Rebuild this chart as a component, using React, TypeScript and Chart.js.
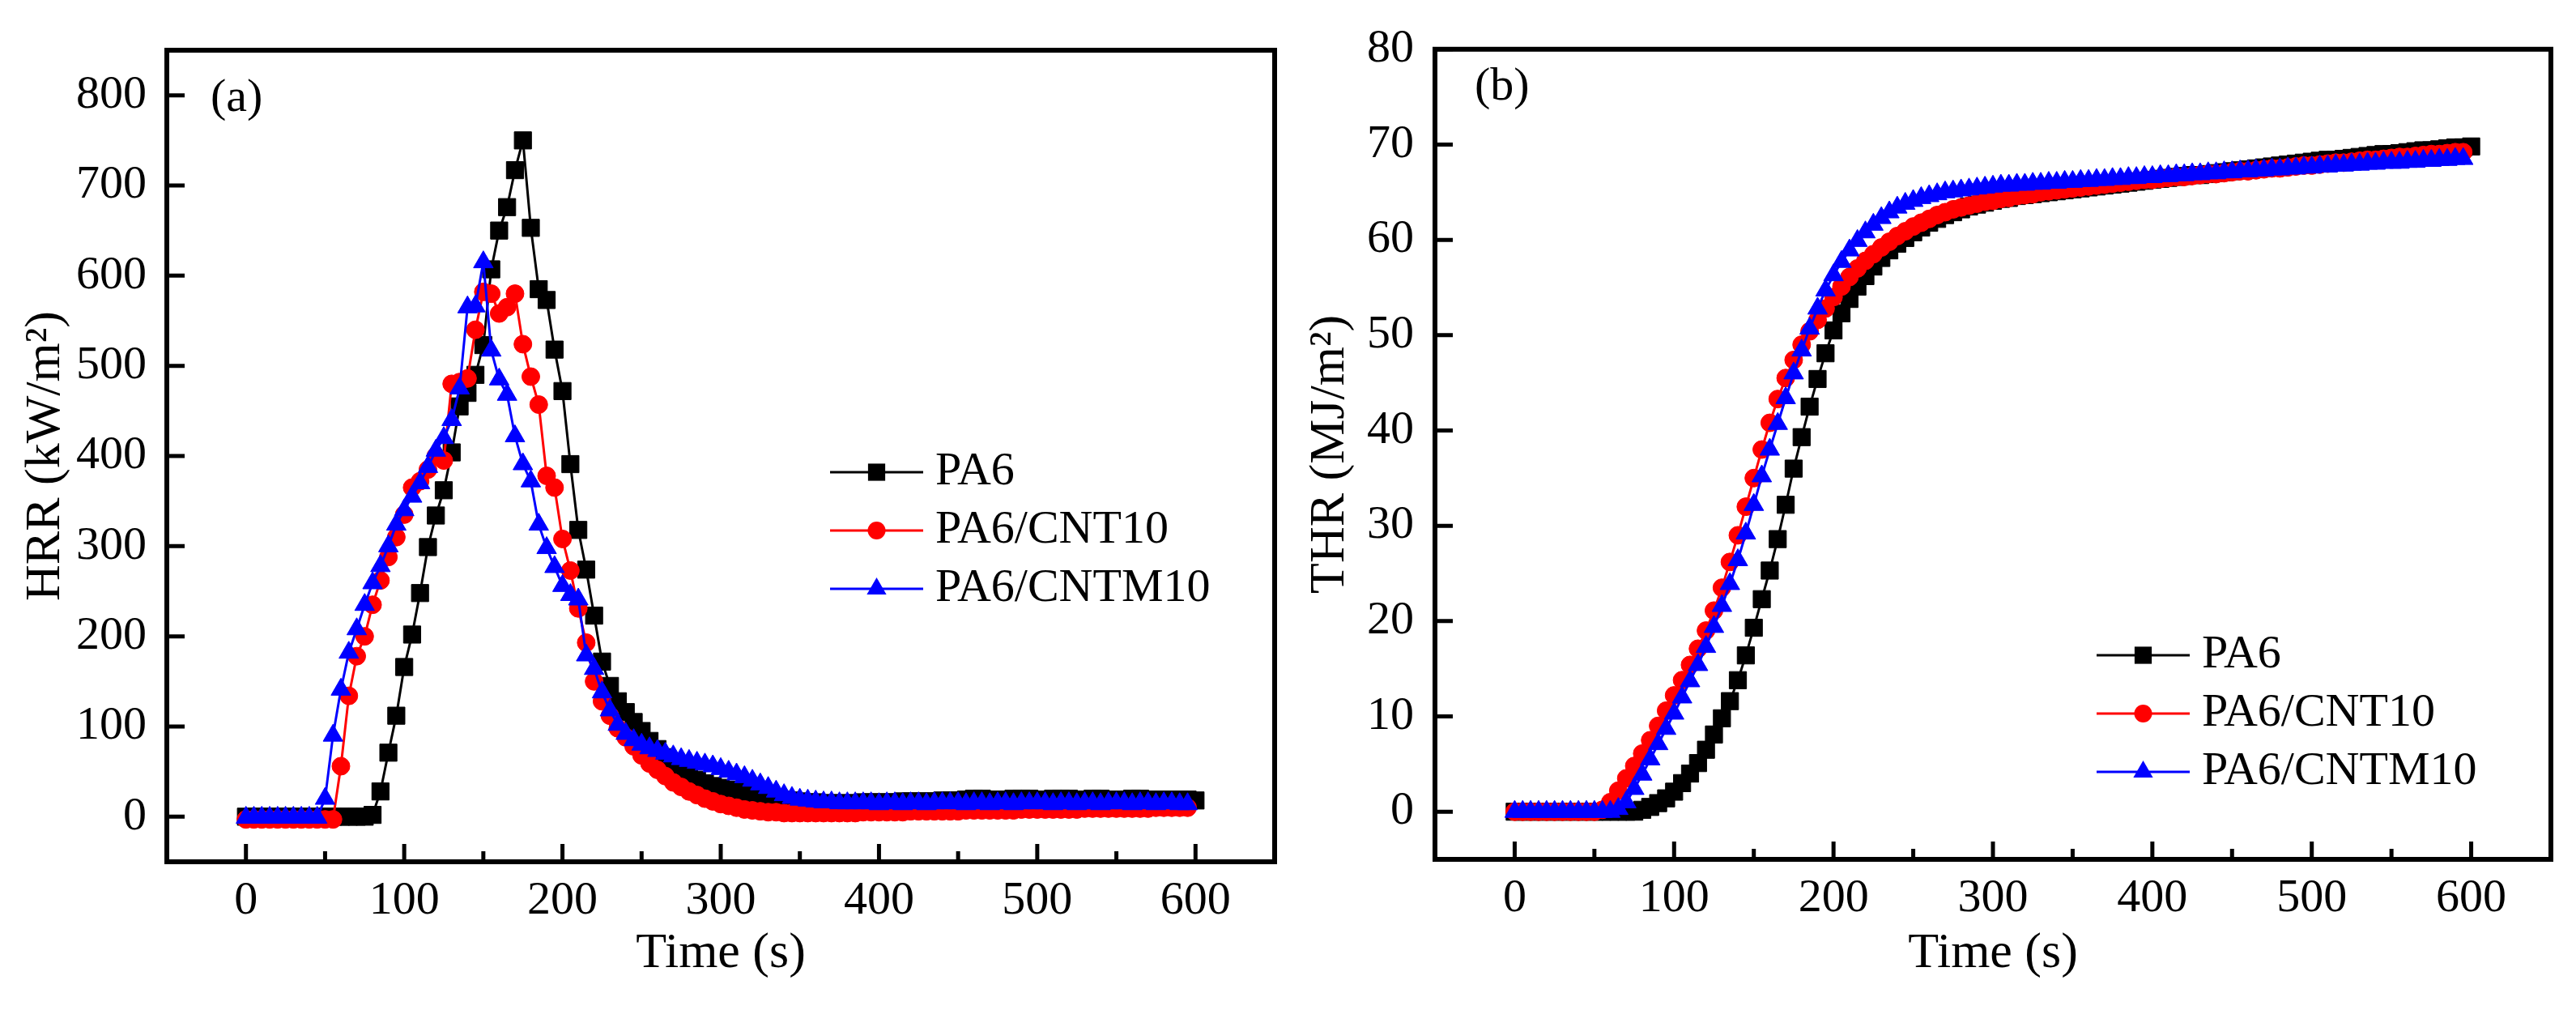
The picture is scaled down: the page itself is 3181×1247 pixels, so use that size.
import React, { useEffect, useRef } from "react";
import { Chart, registerables } from "chart.js";

Chart.register(...registerables);

// ---------------- data ----------------
const TIME_S = [
  0, 5, 10, 15, 20, 25, 30, 35, 40, 45,
  50, 55, 60, 65, 70, 75, 80, 85, 90, 95,
  100, 105, 110, 115, 120, 125, 130, 135, 140, 145,
  150, 155, 160, 165, 170, 175, 180, 185, 190, 195,
  200, 205, 210, 215, 220, 225, 230, 235, 240, 245,
  250, 255, 260, 265, 270, 275, 280, 285, 290, 295,
  300, 305, 310, 315, 320, 325, 330, 335, 340, 345,
  350, 355, 360, 365, 370, 375, 380, 385, 390, 395,
  400, 405, 410, 415, 420, 425, 430, 435, 440, 445,
  450, 455, 460, 465, 470, 475, 480, 485, 490, 495,
  500, 505, 510, 515, 520, 525, 530, 535, 540, 545,
  550, 555, 560, 565, 570, 575, 580, 585, 590, 595,
  600,
];

const SERIES_LABELS = ["PA6", "PA6/CNT10", "PA6/CNTM10"];

// HRR (kW/m2)
const HRR_PA6 = [
  0, 0, 0, 0, 0, 0, 0, 0, 0, 0,
  0, 0, 0, 0, 0, 0, 2, 28, 71, 112,
  166, 202, 248, 299, 334, 362, 404, 455, 470, 490,
  523, 607, 650, 676, 717, 750, 653, 585, 573, 518,
  472, 391, 318, 274, 223, 172, 145, 128, 116, 105,
  95, 84, 75, 66, 58, 51, 45, 41, 37, 34,
  32, 30, 28, 26, 24, 22, 21, 20, 19, 18,
  17, 16, 16, 15, 15, 15, 15, 15, 16, 16,
  16, 16, 16, 17, 17, 17, 17, 17, 18, 18,
  18, 19, 20, 20, 19, 19, 19, 20, 20, 20,
  19, 19, 20, 20, 20, 19, 19, 20, 20, 19,
  19, 19, 20, 20, 19, 19, 19, 19, 19, 19,
  18,
];
const HRR_CNT10 = [
  -3, -3, -3, -3, -3, -3, -3, -3, -3, -3,
  -3, -3, 56, 134, 178, 200, 235, 262, 288, 310,
  335, 365, 372, 385, 400, 395, 480, 482, 486, 540,
  582, 580, 558, 565, 580, 524, 488, 457, 378, 365,
  308, 273, 231, 193, 150, 128, 112, 98, 88, 78,
  68, 59, 52, 45, 38, 33, 28, 24, 20, 17,
  14, 12, 10, 8, 7, 6, 5, 5, 4, 4,
  4, 4, 4, 4, 4, 4, 4, 4, 5, 5,
  5, 5, 5, 5, 6, 6, 6, 6, 6, 6,
  6, 7, 7, 7, 7, 7, 7, 7, 8, 8,
  8, 8, 8, 8, 8, 8, 9, 9, 9, 9,
  9, 9, 9, 9, 9, 10, 10, 10, 10, 10,
];
const HRR_CNTM10 = [
  -1, -1, -1, -1, -1, -1, -1, -1, -1, -1,
  20, 90, 141, 182, 208, 235, 259, 278, 300, 324,
  340, 355, 370, 388, 406, 420, 440, 475, 565, 566,
  615, 517, 485, 468, 422, 391, 372, 324, 298, 277,
  256, 246, 241, 179, 164, 138, 118, 102, 92, 85,
  80, 76, 73, 70, 67, 64, 62, 60, 58, 56,
  53, 50, 47, 44, 40, 36, 32, 28, 24, 21,
  19, 18, 17, 16, 16, 15, 15, 15, 15, 15,
  14, 15, 15, 14, 15, 15, 14, 15, 15, 15,
  15, 14, 15, 15, 14, 15, 15, 14, 15, 15,
  15, 15, 14, 15, 15, 14, 15, 15, 14, 15,
  15, 15, 14, 15, 15, 14, 15, 15, 14, 14,
];

// THR (MJ/m2)
const THR_PA6 = [
  0, 0, 0, 0, 0, 0, 0, 0, 0, 0,
  0, 0, 0, 0, 0, 0, 0.2, 0.5, 0.9, 1.4,
  2.1, 3.0, 4.0, 5.1, 6.5, 8.1, 9.8, 11.6, 13.8, 16.4,
  19.3, 22.3, 25.3, 28.6, 32.2, 36.0, 39.3, 42.5, 45.4, 48.1,
  50.5, 52.3, 53.8, 55.1, 56.2, 57.2, 58.1, 58.9, 59.6, 60.2,
  60.8, 61.3, 61.8, 62.2, 62.6, 62.9, 63.2, 63.5, 63.7, 63.9,
  64.1, 64.3, 64.4, 64.6, 64.7, 64.8, 64.9, 65.0, 65.1, 65.2,
  65.3, 65.4, 65.5, 65.6, 65.7, 65.8, 65.9, 66.0, 66.1, 66.2,
  66.3, 66.4, 66.5, 66.6, 66.7, 66.8, 66.8, 66.9, 67.0, 67.1,
  67.2, 67.3, 67.4, 67.5, 67.6, 67.7, 67.8, 67.9, 68.0, 68.1,
  68.2, 68.3, 68.4, 68.4, 68.5, 68.6, 68.7, 68.8, 68.9, 69.0,
  69.0, 69.1, 69.2, 69.3, 69.4, 69.4, 69.5, 69.6, 69.7, 69.7,
  69.8,
];
const THR_CNT10 = [
  0, 0, 0, 0, 0, 0, 0, 0, 0, 0,
  0, 0.2, 1.0, 2.2, 3.5, 4.8, 6.1, 7.5, 9.0, 10.6,
  12.2, 13.8, 15.4, 17.1, 19.0, 21.1, 23.5, 26.2, 29.0, 32.0,
  35.0, 38.0, 40.8, 43.3, 45.5, 47.4, 49.0, 50.4, 51.6, 52.8,
  54.0, 55.1, 56.1, 57.0, 57.8, 58.5, 59.2, 59.8, 60.4, 60.9,
  61.4, 61.8, 62.2, 62.6, 62.9, 63.2, 63.4, 63.6, 63.8, 64.0,
  64.1, 64.3, 64.4, 64.6, 64.7, 64.8, 65.0, 65.1, 65.2, 65.3,
  65.4, 65.5, 65.6, 65.7, 65.8, 65.9, 66.0, 66.1, 66.2, 66.3,
  66.3, 66.4, 66.5, 66.6, 66.6, 66.7, 66.8, 66.9, 66.9, 67.0,
  67.1, 67.2, 67.2, 67.3, 67.4, 67.5, 67.5, 67.6, 67.7, 67.8,
  67.8, 67.9, 68.0, 68.1, 68.1, 68.2, 68.3, 68.4, 68.4, 68.5,
  68.6, 68.7, 68.7, 68.8, 68.9, 69.0, 69.0, 69.1, 69.2, 69.2,
];
const THR_CNTM10 = [
  0, 0, 0, 0, 0, 0, 0, 0, 0, 0,
  0, 0, 0, 0.3, 1.0, 2.4, 3.9, 5.5, 7.1, 8.7,
  10.3, 12.0, 13.7, 15.4, 17.3, 19.4, 21.6, 23.9, 26.4, 29.2,
  32.2, 35.2, 38.0, 40.7, 43.4, 46.0, 48.4, 50.7, 52.8, 54.7,
  56.3, 57.7, 58.9, 59.9, 60.8, 61.6, 62.3, 62.9, 63.4, 63.8,
  64.1, 64.4, 64.6, 64.8, 65.0, 65.1, 65.2, 65.3, 65.4, 65.5,
  65.6, 65.7, 65.7, 65.8, 65.8, 65.9, 65.9, 66.0, 66.0, 66.1,
  66.1, 66.2, 66.2, 66.3, 66.3, 66.4, 66.4, 66.5, 66.5, 66.6,
  66.6, 66.7, 66.7, 66.8, 66.8, 66.9, 66.9, 67.0, 67.0, 67.1,
  67.1, 67.2, 67.2, 67.3, 67.3, 67.4, 67.4, 67.5, 67.5, 67.6,
  67.6, 67.7, 67.7, 67.8, 67.8, 67.9, 67.9, 68.0, 68.0, 68.1,
  68.1, 68.1, 68.2, 68.2, 68.3, 68.3, 68.4, 68.4, 68.5, 68.5,
];

const X_TICKS = [0, 100, 200, 300, 400, 500, 600];
const X_MINOR_TICKS = [50, 150, 250, 350, 450, 550];
const HRR_TICKS = [0, 100, 200, 300, 400, 500, 600, 700, 800];
const THR_TICKS = [0, 10, 20, 30, 40, 50, 60, 70, 80];

// ---------------- styling ----------------
const FONT = "'Liberation Serif', 'Times New Roman', Times, serif";
const COLORS = ["#000000", "#ff0000", "#0000ff"];
const STYLES = ["rect", "circle", "triangle"];
const RADII = [15, 11, 14];

const toPoints = (vals: number[]) => vals.map((v, i) => ({ x: TIME_S[i], y: v }));

function drawMarker(ctx: CanvasRenderingContext2D, style: string, x: number, y: number, r: number, color: string) {
  ctx.fillStyle = color;
  ctx.beginPath();
  if (style === "rect") {
    const s = Math.SQRT1_2 * r;
    ctx.rect(x - s, y - s, 2 * s, 2 * s);
  } else if (style === "circle") {
    ctx.arc(x, y, r, 0, Math.PI * 2);
  } else {
    ctx.moveTo(x, y - r);
    ctx.lineTo(x + 0.866 * r, y + 0.5 * r);
    ctx.lineTo(x - 0.866 * r, y + 0.5 * r);
    ctx.closePath();
  }
  ctx.fill();
}

const decorPlugin = {
  id: "decor",
  afterDraw(chart: any, _args: any, opts: any) {
    const { ctx, chartArea } = chart;
    const { left, right, top, bottom } = chartArea;
    const xs = chart.scales.x;
    const ys = chart.scales.y;
    ctx.save();
    ctx.strokeStyle = "#000";
    ctx.lineCap = "butt";
    ctx.lineWidth = 5;
    ctx.beginPath();
    X_TICKS.forEach((v) => {
      const p = xs.getPixelForValue(v);
      ctx.moveTo(p, bottom);
      ctx.lineTo(p, bottom - 22);
    });
    X_MINOR_TICKS.forEach((v) => {
      const p = xs.getPixelForValue(v);
      ctx.moveTo(p, bottom);
      ctx.lineTo(p, bottom - 13);
    });
    ys.ticks.forEach((t: any) => {
      const p = ys.getPixelForValue(t.value);
      ctx.moveTo(left, p);
      ctx.lineTo(left + 22, p);
    });
    ctx.stroke();
    ctx.lineWidth = 6;
    ctx.lineJoin = "miter";
    ctx.strokeRect(left, top, right - left, bottom - top);

    ctx.font = `58px ${FONT}`;
    ctx.textBaseline = "middle";
    ctx.textAlign = "left";
    ctx.fillStyle = "#000";
    ctx.fillText(opts.tag, opts.tagX, opts.tagY);

    chart.data.datasets.forEach((ds: any, i: number) => {
      const y = opts.legendY + i * opts.legendGap;
      const x1 = opts.legendX;
      const x2 = x1 + 115;
      ctx.strokeStyle = ds.borderColor;
      ctx.lineWidth = 3;
      ctx.beginPath();
      ctx.moveTo(x1, y);
      ctx.lineTo(x2, y);
      ctx.stroke();
      drawMarker(ctx, ds.pointStyle, (x1 + x2) / 2, y, ds.pointRadius, ds.backgroundColor);
      ctx.fillStyle = "#000";
      ctx.font = `58px ${FONT}`;
      ctx.fillText(ds.label, x2 + 15, y);
    });
    ctx.restore();
  },
};

type PanelCfg = {
  series: number[][];
  yMin: number;
  yMax: number;
  yTicks: number[];
  yTitle: string;
  yAxisWidth: number;
  yTitlePad: number;
  yTickPad: number;
  xAxisHeight: number;
  padRight: number;
  padTop: number;
  tag: string;
  tagX: number;
  tagY: number;
  legendX: number;
  legendY: number;
};

function buildConfig(c: PanelCfg): any {
  return {
    type: "line",
    data: {
      datasets: c.series.map((vals, i) => ({
        label: SERIES_LABELS[i],
        data: toPoints(vals),
        borderColor: COLORS[i],
        backgroundColor: COLORS[i],
        pointBackgroundColor: COLORS[i],
        pointBorderColor: COLORS[i],
        pointBorderWidth: 1,
        pointStyle: STYLES[i],
        pointRadius: RADII[i],
        borderWidth: 3,
        tension: 0,
        fill: false,
        order: 3 - i,
      })),
    },
    options: {
      responsive: false,
      animation: false,
      devicePixelRatio: 1,
      events: [],
      layout: { padding: { left: 0, right: c.padRight, top: c.padTop, bottom: 0 } },
      plugins: {
        legend: { display: false },
        tooltip: { enabled: false },
        decor: {
          tag: c.tag,
          tagX: c.tagX,
          tagY: c.tagY,
          legendX: c.legendX,
          legendY: c.legendY,
          legendGap: 72,
        },
      },
      scales: {
        x: {
          type: "linear",
          min: -50,
          max: 650,
          afterBuildTicks: (s: any) => {
            s.ticks = X_TICKS.map((v) => ({ value: v }));
          },
          afterFit: (s: any) => {
            s.height = c.xAxisHeight;
          },
          grid: { display: false, drawTicks: false },
          border: { display: false },
          ticks: {
            color: "#000",
            font: { family: FONT, size: 58 },
            padding: 14,
            maxRotation: 0,
            autoSkip: false,
            callback: (v: any) => String(v),
          },
          title: {
            display: true,
            text: "Time (s)",
            color: "#000",
            font: { family: FONT, size: 62 },
            padding: 32,
          },
        },
        y: {
          type: "linear",
          min: c.yMin,
          max: c.yMax,
          afterBuildTicks: (s: any) => {
            s.ticks = c.yTicks.map((v) => ({ value: v }));
          },
          afterFit: (s: any) => {
            s.width = c.yAxisWidth;
          },
          grid: { display: false, drawTicks: false },
          border: { display: false },
          ticks: {
            color: "#000",
            font: { family: FONT, size: 58 },
            padding: c.yTickPad,
            autoSkip: false,
            callback: (v: any) => String(v),
          },
          title: {
            display: true,
            text: c.yTitle,
            color: "#000",
            font: { family: FONT, size: 62 },
            padding: c.yTitlePad,
          },
        },
      },
    },
    plugins: [decorPlugin],
  };
}

export default function App() {
  const refA = useRef<HTMLCanvasElement | null>(null);
  const refB = useRef<HTMLCanvasElement | null>(null);

  useEffect(() => {
    document.body.style.margin = "0";
    document.body.style.background = "#ffffff";
    const a = new Chart(
      refA.current as HTMLCanvasElement,
      buildConfig({
        series: [HRR_PA6, HRR_CNT10, HRR_CNTM10],
        yMin: -50,
        yMax: 850,
        yTicks: HRR_TICKS,
        yTitle: "HRR (kW/m²)",
        yAxisWidth: 206,
        yTitlePad: 20,
        yTickPad: 25,
        xAxisHeight: 183,
        padRight: 26,
        padTop: 62,
        tag: "(a)",
        tagX: 260,
        tagY: 122,
        legendX: 1025,
        legendY: 583,
      })
    );
    const b = new Chart(
      refB.current as HTMLCanvasElement,
      buildConfig({
        series: [THR_PA6, THR_CNT10, THR_CNTM10],
        yMin: -5,
        yMax: 80,
        yTicks: THR_TICKS,
        yTitle: "THR (MJ/m²)",
        yAxisWidth: 172,
        yTitlePad: 6,
        yTickPad: 26,
        xAxisHeight: 186,
        padRight: 31,
        padTop: 48,
        tag: "(b)",
        tagX: 221,
        tagY: 108,
        legendX: 989,
        legendY: 809,
      })
    );
    return () => {
      a.destroy();
      b.destroy();
    };
  }, []);

  return (
    <div
      style={{
        position: "absolute",
        left: 0,
        top: 0,
        width: 3181,
        height: 1247,
        background: "#ffffff",
        overflow: "hidden",
      }}
    >
      <canvas
        ref={refA}
        width={1600}
        height={1247}
        style={{ position: "absolute", left: 0, top: 0, width: 1600, height: 1247 }}
      />
      <canvas
        ref={refB}
        width={1581}
        height={1247}
        style={{ position: "absolute", left: 1600, top: 0, width: 1581, height: 1247 }}
      />
    </div>
  );
}
